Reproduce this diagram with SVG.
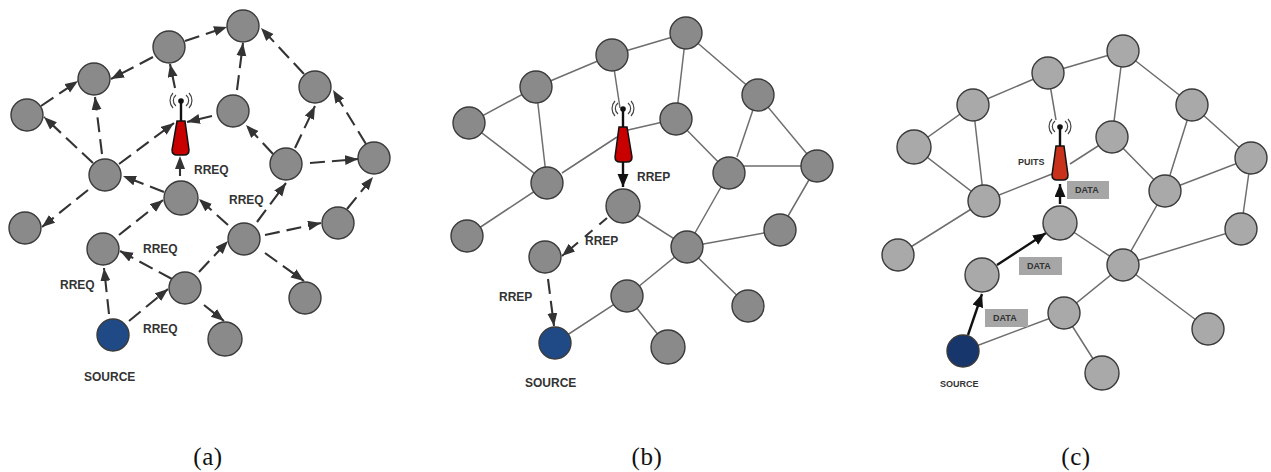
<svg xmlns="http://www.w3.org/2000/svg" width="1271" height="472" viewBox="0 0 1271 472">
<style>
.n{stroke:#3a3a3a;stroke-width:1.4}
.g{fill:#8a8a8a}
.l{fill:#a9a9a9}
.s{fill:#1f4a86}
.d{fill:#17366b}
.e{stroke:#6e6e6e;stroke-width:1.5;fill:none}
.q{stroke:#333;stroke-width:2.1;fill:none;stroke-dasharray:15 7;marker-end:url(#ah)}
.k{stroke:#111;stroke-width:2.4;fill:none;marker-end:url(#bh)}
.t{font:bold 12px "Liberation Sans",Arial,sans-serif;fill:#333}
.u{font:bold 9px "Liberation Sans",Arial,sans-serif;fill:#333}
.c{font:25px "Liberation Serif","Times New Roman",serif;fill:#111;text-anchor:middle;letter-spacing:.6px}
.b{fill:#a6a6a6}
.w{fill:none;stroke:#444;stroke-width:1.2}
</style>
<defs>
<marker id="ah" markerUnits="userSpaceOnUse" markerWidth="14" markerHeight="11" refX="13" refY="5" orient="auto"><path d="M0 0L13 5L0 10Z" fill="#333"/></marker>
<marker id="bh" markerUnits="userSpaceOnUse" markerWidth="14" markerHeight="12" refX="13" refY="5.5" orient="auto"><path d="M0 0L13 5.500L0 11Z" fill="#111"/></marker>
<g id="mast">
<path class="w" d="M-5 -6A7 7 0 0 0 -5 5M5 -6A7 7 0 0 1 5 5M-8 -8A11 11 0 0 0 -8 7M8 -8A11 11 0 0 1 8 7"/>
<path d="M0 0V20" stroke="#111" stroke-width="2.400"/>
<circle r="2.800" fill="#111"/>
</g>
</defs>

<g id="connectors-a">
<path class="q" d="M185 41L227 27"/>
<path class="q" d="M153 57L111 79"/>
<path class="q" d="M41 106L78 81"/>
<path class="q" d="M102 154L95 97"/>
<path class="q" d="M93 163L44 117"/>
<path class="q" d="M237 90L243 43"/>
<path class="q" d="M304 74L261 28"/>
<path class="q" d="M175 88L170 64"/>
<path class="q" d="M212 116L187 122"/>
<path class="q" d="M119 164L174 123"/>
<path class="q" d="M180 176L180 156"/>
<path class="q" d="M164 192L123 176"/>
<path class="q" d="M273 154L246 125"/>
<path class="q" d="M295 148L315 106"/>
<path class="q" d="M366 144L333 90"/>
<path class="q" d="M310 163L358 159"/>
<path class="q" d="M347 209L373 177"/>
<path class="q" d="M257 222L286 183"/>
<path class="q" d="M228 225L199 199"/>
<path class="q" d="M265 235L321 223"/>
<path class="q" d="M119 235L163 200"/>
<path class="q" d="M88 190L42 227"/>
<path class="q" d="M265 253L304 281"/>
<path class="q" d="M172 279L120 251"/>
<path class="q" d="M199 272L228 241"/>
<path class="q" d="M204 305L224 321"/>
<path class="q" d="M109 314L104 268"/>
<path class="q" d="M129 321L168 289"/>
</g>
<g id="connectors-b">
<path class="e" d="M686 33L612 55L536 87L469 123L547 183L536 87M562 173L617 137M628 130L676 119M612 55L620 108M686 33L676 119L729 173M686 33L758 95L737 157M758 95L817 166M729 166H817M729 173L687 247M817 166L780 230L687 247M547 183L467 236M623 206L687 247L627 296L555 343M687 247L748 306M627 296L668 347"/>
<path class="k" d="M623 162L623 187"/>
<path class="q" d="M607 218L562 256" style="stroke-dasharray:10 9"/>
<path class="q" d="M548 279L554 326"/>
</g>
<g id="connectors-c">
<path class="e" d="M1123 51L1048 73L973 105L914 147L984 201L973 105M984 201L1052 174M1070 164L1112 137M1048 73L1056 120M1123 51L1112 137L1165 191M1123 51L1192 105L1165 191M1192 105L1251 158L1165 191M1165 191L1123 265M1251 158L1241 229L1123 265M984 201L898 255M1060 223L1123 265L1064 313L963 351M1123 265L1208 329M1064 313L1102 373"/>
<path class="k" d="M1060 204L1060 184"/>
<path class="k" d="M997 265L1046 233"/>
<path class="k" d="M968 335L982 294"/>
</g>

<g id="a1"><circle class="n g" cx="243" cy="26" r="16"/></g>
<g id="a2"><circle class="n g" cx="169" cy="47" r="16"/></g>
<g id="a3"><circle class="n g" cx="94" cy="79" r="16"/></g>
<g id="a4"><circle class="n g" cx="27" cy="115" r="16"/></g>
<g id="a5"><circle class="n g" cx="233" cy="111" r="16"/></g>
<g id="a6"><circle class="n g" cx="315" cy="87" r="16"/></g>
<g id="a7"><circle class="n g" cx="374" cy="158" r="16"/></g>
<g id="a8"><circle class="n g" cx="286" cy="164" r="16"/></g>
<g id="a9"><circle class="n g" cx="105" cy="175" r="16"/></g>
<g id="a10"><circle class="n g" cx="181" cy="198" r="17"/></g>
<g id="a11"><circle class="n g" cx="338" cy="223" r="16"/></g>
<g id="a12"><circle class="n g" cx="25" cy="228" r="16"/></g>
<g id="a13"><circle class="n g" cx="244" cy="239" r="16"/></g>
<g id="a14"><circle class="n g" cx="103" cy="249" r="16"/></g>
<g id="a15"><circle class="n g" cx="185" cy="288" r="16"/></g>
<g id="a16"><circle class="n g" cx="305" cy="298" r="16"/></g>
<g id="a-source"><circle class="n s" cx="113" cy="335" r="16"/></g>
<g id="a18"><circle class="n g" cx="225" cy="339" r="17"/></g>
<g id="a-tower"><use href="#mast" x="181" y="101"/><path d="M177 121H185L189 150Q189 155 184 155H177Q172 155 172 150Z" fill="#c80000" stroke="#111" stroke-width="1.500"/></g>

<g id="b1"><circle class="n g" cx="686" cy="33" r="16"/></g>
<g id="b2"><circle class="n g" cx="612" cy="55" r="16"/></g>
<g id="b3"><circle class="n g" cx="536" cy="87" r="16"/></g>
<g id="b4"><circle class="n g" cx="469" cy="123" r="16"/></g>
<g id="b5"><circle class="n g" cx="676" cy="119" r="16"/></g>
<g id="b6"><circle class="n g" cx="758" cy="95" r="16"/></g>
<g id="b7"><circle class="n g" cx="817" cy="166" r="16"/></g>
<g id="b8"><circle class="n g" cx="729" cy="173" r="16"/></g>
<g id="b9"><circle class="n g" cx="547" cy="183" r="16"/></g>
<g id="b10"><circle class="n g" cx="623" cy="206" r="17"/></g>
<g id="b11"><circle class="n g" cx="780" cy="230" r="16"/></g>
<g id="b12"><circle class="n g" cx="467" cy="236" r="16"/></g>
<g id="b13"><circle class="n g" cx="687" cy="247" r="16"/></g>
<g id="b14"><circle class="n g" cx="545" cy="257" r="16"/></g>
<g id="b15"><circle class="n g" cx="627" cy="296" r="16"/></g>
<g id="b16"><circle class="n g" cx="748" cy="306" r="16"/></g>
<g id="b-source"><circle class="n s" cx="555" cy="343" r="16"/></g>
<g id="b18"><circle class="n g" cx="668" cy="347" r="17"/></g>
<g id="b-tower"><use href="#mast" x="623" y="109"/><path d="M619 127H627L632 157Q632 162 627 162H620Q615 162 615 157Z" fill="#c80000" stroke="#111" stroke-width="1.500"/></g>

<g id="c1"><circle class="n l" cx="1123" cy="51" r="16"/></g>
<g id="c2"><circle class="n l" cx="1048" cy="73" r="16"/></g>
<g id="c3"><circle class="n l" cx="973" cy="105" r="16"/></g>
<g id="c4"><circle class="n l" cx="914" cy="147" r="17"/></g>
<g id="c5"><circle class="n l" cx="1112" cy="137" r="16"/></g>
<g id="c6"><circle class="n l" cx="1192" cy="105" r="16"/></g>
<g id="c7"><circle class="n l" cx="1251" cy="158" r="16"/></g>
<g id="c8"><circle class="n l" cx="1165" cy="191" r="16"/></g>
<g id="c9"><circle class="n l" cx="984" cy="201" r="16"/></g>
<g id="c10"><circle class="n l" cx="1060" cy="223" r="17"/></g>
<g id="c11"><circle class="n l" cx="1241" cy="229" r="16"/></g>
<g id="c12"><circle class="n l" cx="898" cy="255" r="16"/></g>
<g id="c13"><circle class="n l" cx="1123" cy="265" r="16"/></g>
<g id="c14"><circle class="n l" cx="982" cy="275" r="17"/></g>
<g id="c15"><circle class="n l" cx="1064" cy="313" r="16"/></g>
<g id="c16"><circle class="n l" cx="1208" cy="329" r="16"/></g>
<g id="c-source"><circle class="n d" cx="963" cy="351" r="16"/></g>
<g id="c18"><circle class="n l" cx="1102" cy="373" r="17"/></g>
<g id="c-tower"><use href="#mast" x="1060" y="127"/><path d="M1056 146H1064L1068 175Q1068 180 1063 180H1057Q1052 180 1052 175Z" fill="#c8321a" stroke="#111" stroke-width="1.500"/></g>

<g id="labels-a">
<text class="t" x="194" y="174">RREQ</text>
<text class="t" x="229" y="204">RREQ</text>
<text class="t" x="143" y="253">RREQ</text>
<text class="t" x="60" y="289">RREQ</text>
<text class="t" x="143" y="333">RREQ</text>
<text class="t" x="84" y="381">SOURCE</text>
</g>
<g id="labels-b">
<text class="t" x="637" y="181">RREP</text>
<text class="t" x="585" y="245">RREP</text>
<text class="t" x="499" y="301">RREP</text>
<text class="t" x="525" y="387">SOURCE</text>
</g>
<g id="labels-c">
<text class="u" x="1018" y="165">PUITS</text>
<rect class="b" x="1067" y="181" width="42" height="18"/>
<text class="u" x="1075" y="193">DATA</text>
<rect class="b" x="1019" y="257" width="43" height="18"/>
<text class="u" x="1027" y="269">DATA</text>
<rect class="b" x="985" y="309" width="43" height="18"/>
<text class="u" x="993" y="321">DATA</text>
<text class="u" x="940" y="387">SOURCE</text>
</g>
<text class="c" x="208" y="465">(a)</text>
<text class="c" x="647" y="465">(b)</text>
<text class="c" x="1076" y="465">(c)</text>
</svg>
